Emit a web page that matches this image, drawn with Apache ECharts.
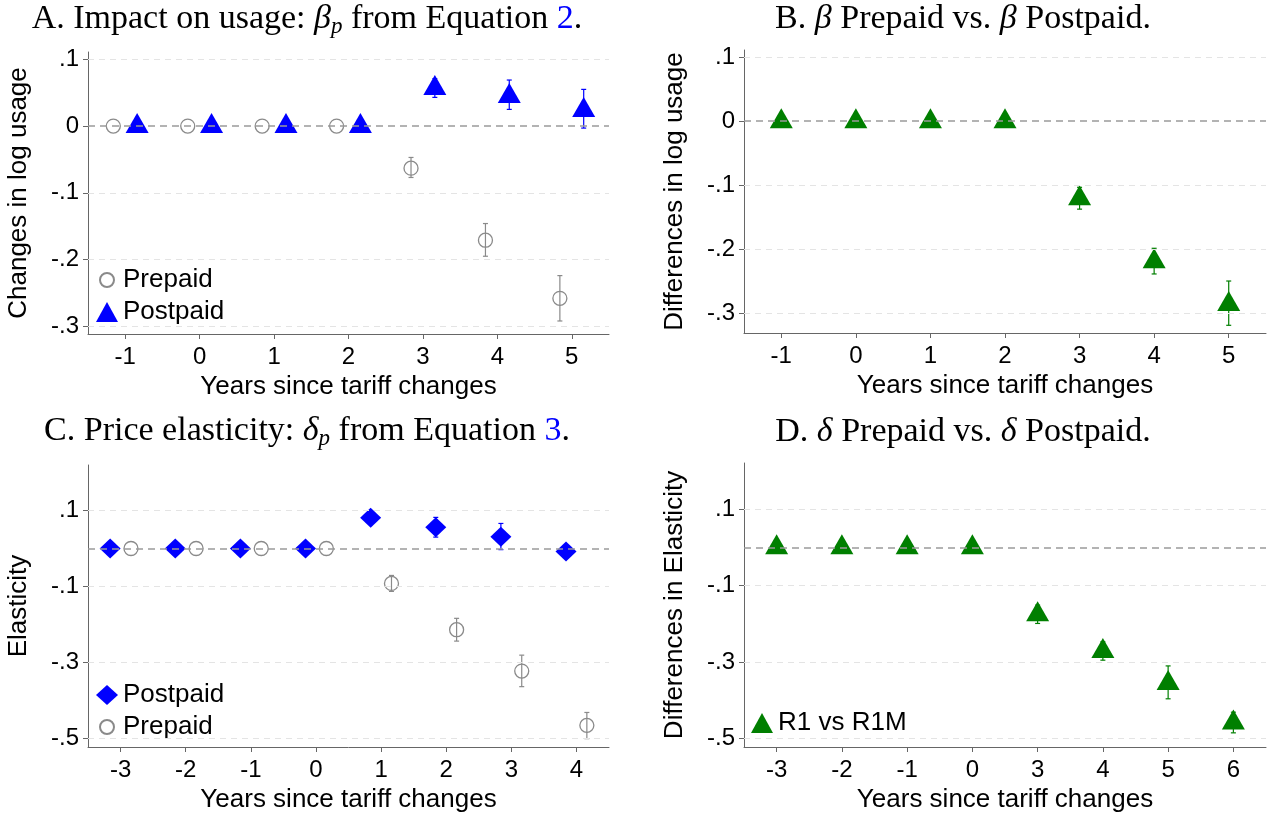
<!DOCTYPE html>
<html>
<head>
<meta charset="utf-8">
<script src="https://cdn.jsdelivr.net/npm/echarts@6/dist/echarts.min.js"></script>
<style>html,body{margin:0;padding:0;background:#fff;}#c{width:1271px;height:817px;}</style>
</head>
<body>
<div id="c"></div>
<script>
// ---------- DATA ----------
const yearsAB = [-1, 0, 1, 2, 3, 4, 5];
const A_prepaid     = [0, 0, 0, 0, -0.063, -0.171, -0.258];
const A_prepaid_lo  = [null, null, null, null, -0.077, -0.195, -0.292];
const A_prepaid_hi  = [null, null, null, null, -0.047, -0.146, -0.224];
const A_postpaid    = [0, 0, 0, 0, 0.057, 0.045, 0.024];
const A_postpaid_lo = [null, null, null, null, 0.043, 0.025, -0.003];
const A_postpaid_hi = [null, null, null, null, 0.071, 0.069, 0.055];

const B_diff    = [0, 0, 0, 0, -0.120, -0.218, -0.285];
const B_diff_lo = [null, null, null, null, -0.137, -0.238, -0.318];
const B_diff_hi = [null, null, null, null, -0.103, -0.198, -0.249];

const yearsC = [-3, -2, -1, 0, 1, 2, 3, 4];
const C_postpaid    = [0, 0, 0, 0, 0.081, 0.056, 0.031, -0.008];
const C_postpaid_lo = [null, null, null, null, 0.073, 0.030, -0.003, -0.016];
const C_postpaid_hi = [null, null, null, null, 0.089, 0.082, 0.066, 0.000];
const C_prepaid     = [0, 0, 0, 0, -0.092, -0.214, -0.323, -0.466];
const C_prepaid_lo  = [null, null, null, null, -0.113, -0.244, -0.364, -0.501];
const C_prepaid_hi  = [null, null, null, null, -0.071, -0.184, -0.281, -0.432];

const yearsD = ['-3', '-2', '-1', '0', '3', '4', '5', '6'];
const D_diff    = [0, 0, 0, 0, -0.175, -0.271, -0.355, -0.458];
const D_diff_lo = [null, null, null, null, -0.199, -0.295, -0.396, -0.485];
const D_diff_hi = [null, null, null, null, -0.151, -0.247, -0.310, -0.431];

const yTicksAB = [-0.3, -0.2, -0.1, 0, 0.1];
const yTicksCD = [-0.5, -0.3, -0.1, 0.1];

// ---------- STYLE ----------
const SANS = "'Liberation Sans', Arial, sans-serif";
const SERIF = "'Liberation Serif', 'Times New Roman', serif";
const BLUE = '#0000ff', GRAY = '#8a8a8a', GREEN = '#007f00';
const AXIS = '#666666';
const OFF = 0.16;
const TICKFS = 24, NAMEFS = 26;

function fmtY(v) {
  const r = Math.round(v * 10) / 10;
  if (r === 0) return '0';
  return (r < 0 ? '-' : '') + Math.abs(r).toFixed(1).replace(/^0/, '');
}

function yAxis(grid, min, max, ticks, name, gap) {
  return {
    type: 'value', gridIndex: grid, min: min, max: max, position: 'left',
    axisLine: { show: true, onZero: false, lineStyle: { color: AXIS, width: 1 } },
    axisTick: { show: true, length: 5, customValues: ticks, lineStyle: { color: AXIS } },
    axisLabel: { customValues: ticks, formatter: fmtY, fontSize: TICKFS, color: '#000', fontFamily: SANS, margin: 9 },
    splitLine: { show: false },
    name: name, nameLocation: 'middle', nameGap: gap,
    nameTextStyle: { fontSize: NAMEFS, color: '#000', fontFamily: SANS }
  };
}
function xAxisVal(grid, min, max, ticks) {
  return {
    type: 'value', gridIndex: grid, min: min, max: max, position: 'bottom',
    axisLine: { show: true, onZero: false, lineStyle: { color: AXIS, width: 1 } },
    axisTick: { show: true, length: 5, customValues: ticks, lineStyle: { color: AXIS } },
    axisLabel: { customValues: ticks, formatter: v => String(Math.round(v)), fontSize: TICKFS, color: '#000', fontFamily: SANS, margin: 11 },
    splitLine: { show: false },
    name: 'Years since tariff changes', nameLocation: 'middle', nameGap: 40,
    nameTextStyle: { fontSize: NAMEFS, color: '#000', fontFamily: SANS }
  };
}

function pts(xs, ys, off) { return xs.map((x, i) => [x + off, ys[i]]); }
function bars(xs, lo, hi, off) {
  const out = [];
  xs.forEach((x, i) => { if (lo[i] !== null) out.push([typeof x === 'number' ? x + off : i, lo[i], hi[i]]); });
  return out;
}
function errSeries(xi, yi, data, color) {
  return {
    type: 'custom', xAxisIndex: xi, yAxisIndex: yi, z: 2, silent: true,
    encode: { x: 0, y: [1, 2] },
    data: data,
    renderItem: function (params, api) {
      const x = api.value(0);
      const pLo = api.coord([x, api.value(1)]);
      const pHi = api.coord([x, api.value(2)]);
      const cw = 2.5;
      const st = { stroke: color, lineWidth: 1.2 };
      return { type: 'group', children: [
        { type: 'line', shape: { x1: pLo[0], y1: pLo[1], x2: pHi[0], y2: pHi[1] }, style: st },
        { type: 'line', shape: { x1: pLo[0] - cw, y1: pLo[1], x2: pLo[0] + cw, y2: pLo[1] }, style: st },
        { type: 'line', shape: { x1: pHi[0] - cw, y1: pHi[1], x2: pHi[0] + cw, y2: pHi[1] }, style: st }
      ] };
    }
  };
}
function gridLines(xi, yi, ticks) {
  const d = ticks.filter(t => t !== 0).map(t => ({ yAxis: t, lineStyle: { color: '#e4e4e4', width: 1, type: [6, 5] } }));
  d.push({ yAxis: 0, lineStyle: { color: '#9a9a9a', width: 1.5, type: [7, 5] } });
  return {
    type: 'scatter', xAxisIndex: xi, yAxisIndex: yi, z: 1, data: [], silent: true,
    markLine: { silent: true, symbol: ['none', 'none'], label: { show: false }, animation: false, data: d }
  };
}
const TRI = { symbol: 'triangle', symbolSize: [23, 20], symbolOffset: [0, -3] };
const hollow = { color: 'rgba(0,0,0,0)', borderColor: GRAY, borderWidth: 1.3, opacity: 1 };

function legend(name, left, top, iconH, pad) {
  return {
    data: [name], left: left, top: top, orient: 'vertical', itemWidth: 22, itemHeight: iconH,
    padding: pad, backgroundColor: '#fff', selectedMode: false,
    formatter: n => LABELS[n],
    textStyle: { fontSize: NAMEFS, lineHeight: 26, color: '#000', fontFamily: SANS }
  };
}
const LABELS = { A_Prepaid: 'Prepaid', A_Postpaid: 'Postpaid', C_Postpaid: 'Postpaid', C_Prepaid: 'Prepaid', D_diff: 'R1 vs R1M' };

function title(left, top, txt) {
  return {
    text: txt, left: left, top: top, textAlign: 'center', padding: 0,
    textStyle: {
      fontFamily: SERIF, fontSize: 34, fontWeight: 'normal', color: '#000', lineHeight: 38,
      rich: {
        i: { fontFamily: SERIF, fontStyle: 'italic', fontSize: 34, color: '#000' },
        sub: { fontFamily: SERIF, fontStyle: 'italic', fontSize: 23, color: '#000', verticalAlign: 'bottom', padding: [14, 0, 0, 0] },
        blue: { fontFamily: SERIF, fontSize: 34, color: BLUE }
      }
    }
  };
}

const option = {
  animation: false,
  backgroundColor: '#fff',
  title: [
    title(307, 0, 'A. Impact on usage: {i|β}{sub|p} from Equation {blue|2}.'),
    title(963, 0, 'B. {i|β} Prepaid vs. {i|β} Postpaid.'),
    title(307, 412, 'C. Price elasticity: {i|δ}{sub|p} from Equation {blue|3}.'),
    title(963, 413, 'D. {i|δ} Prepaid vs. {i|δ} Postpaid.')
  ],
  grid: [
    { left: 88, top: 52, width: 521, height: 282 },
    { left: 744, top: 50, width: 522, height: 283 },
    { left: 88, top: 465, width: 521, height: 282 },
    { left: 744, top: 463, width: 522, height: 284 }
  ],
  xAxis: [
    xAxisVal(0, -1.5, 5.5, yearsAB),
    xAxisVal(1, -1.5, 5.5, yearsAB),
    xAxisVal(2, -3.5, 4.5, yearsC),
    {
      type: 'category', gridIndex: 3, data: yearsD, boundaryGap: true, position: 'bottom',
      axisLine: { show: true, onZero: false, lineStyle: { color: AXIS, width: 1 } },
      axisTick: { show: true, length: 5, alignWithLabel: true, lineStyle: { color: AXIS } },
      axisLabel: { fontSize: TICKFS, color: '#000', fontFamily: SANS, margin: 11, interval: 0 },
      splitLine: { show: false },
      name: 'Years since tariff changes', nameLocation: 'middle', nameGap: 40,
      nameTextStyle: { fontSize: NAMEFS, color: '#000', fontFamily: SANS }
    }
  ],
  yAxis: [
    yAxis(0, -0.3115, 0.111, yTicksAB, 'Changes in log usage', 56),
    yAxis(1, -0.330, 0.111, yTicksAB, 'Differences in log usage', 56),
    yAxis(2, -0.523, 0.220, yTicksCD, 'Elasticity', 56),
    yAxis(3, -0.522, 0.2205, yTicksCD, 'Differences in Elasticity', 56)
  ],
  legend: [
    legend('A_Prepaid', 89, 267, 14, [0, 10, 0, 10]),
    legend('A_Postpaid', 89, 299, 20, [0, 10, 8, 7]),
    legend('C_Postpaid', 89, 682, 20, [0, 10, 0, 7]),
    legend('C_Prepaid', 89, 714, 14, [0, 30, 6, 10]),
    legend('D_diff', 745, 710, 20, [0, 16, 10, 6])
  ],
  series: [
    // Panel A
    gridLines(0, 0, yTicksAB),
    errSeries(0, 0, bars(yearsAB, A_prepaid_lo, A_prepaid_hi, -OFF), GRAY),
    errSeries(0, 0, bars(yearsAB, A_postpaid_lo, A_postpaid_hi, OFF), BLUE),
    { name: 'A_Prepaid', type: 'scatter', xAxisIndex: 0, yAxisIndex: 0, z: 3, symbol: 'circle', symbolSize: 14,
      itemStyle: hollow, data: pts(yearsAB, A_prepaid, -OFF) },
    Object.assign({ name: 'A_Postpaid', type: 'scatter', xAxisIndex: 0, yAxisIndex: 0, z: 3,
      itemStyle: { color: BLUE, opacity: 1 }, data: pts(yearsAB, A_postpaid, OFF) }, TRI),
    // Panel B
    gridLines(1, 1, yTicksAB),
    errSeries(1, 1, bars(yearsAB, B_diff_lo, B_diff_hi, 0), GREEN),
    Object.assign({ name: 'B_diff', type: 'scatter', xAxisIndex: 1, yAxisIndex: 1, z: 3,
      itemStyle: { color: GREEN, opacity: 1 }, data: pts(yearsAB, B_diff, 0) }, TRI),
    // Panel C
    gridLines(2, 2, yTicksCD),
    errSeries(2, 2, bars(yearsC, C_prepaid_lo, C_prepaid_hi, OFF), GRAY),
    errSeries(2, 2, bars(yearsC, C_postpaid_lo, C_postpaid_hi, -OFF), BLUE),
    { name: 'C_Prepaid', type: 'scatter', xAxisIndex: 2, yAxisIndex: 2, z: 3, symbol: 'circle', symbolSize: 14,
      itemStyle: hollow, data: pts(yearsC, C_prepaid, OFF) },
    { name: 'C_Postpaid', type: 'scatter', xAxisIndex: 2, yAxisIndex: 2, z: 3, symbol: 'diamond', symbolSize: [21, 20],
      itemStyle: { color: BLUE, opacity: 1 }, data: pts(yearsC, C_postpaid, -OFF) },
    // Panel D
    gridLines(3, 3, yTicksCD),
    errSeries(3, 3, bars(yearsD, D_diff_lo, D_diff_hi, 0), GREEN),
    Object.assign({ name: 'D_diff', type: 'scatter', xAxisIndex: 3, yAxisIndex: 3, z: 3,
      itemStyle: { color: GREEN, opacity: 1 }, data: D_diff.map((v, i) => [i, v]) }, TRI)
  ]
};

const chart = echarts.init(document.getElementById('c'), null, { renderer: 'canvas' });
chart.setOption(option);
</script>
</body>
</html>
